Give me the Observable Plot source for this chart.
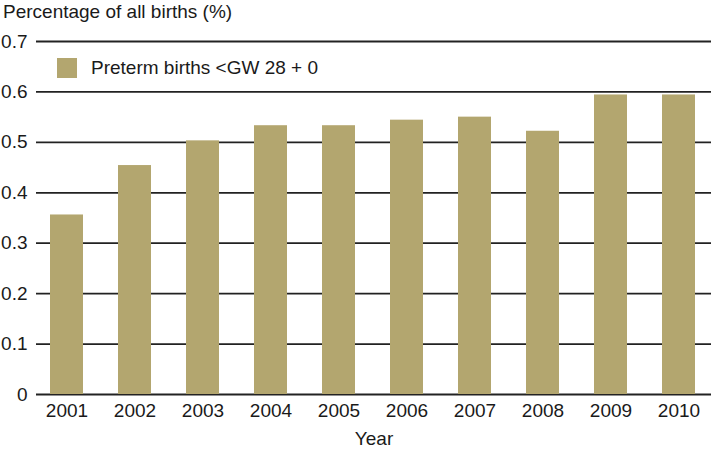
<!DOCTYPE html>
<html>
<head>
<meta charset="utf-8">
<script src="https://cdn.jsdelivr.net/npm/d3@7"></script>
<script src="https://cdn.jsdelivr.net/npm/@observablehq/plot@0.6"></script>
<style>
  html, body { margin: 0; padding: 0; background: #fff; }
  #wrap { position: relative; width: 711px; height: 453px; font-family: "Liberation Sans", Arial, sans-serif; color: #1a1a1a; }
  #title { position: absolute; left: 3px; top: 0px; font-size: 19px; line-height: 24px; white-space: nowrap; }
  #legend { position: absolute; left: 57px; top: 57px; display: flex; align-items: center; font-size: 19px; white-space: nowrap; }
  #legend .sw { width: 20px; height: 20px; margin-right: 14px; }
  svg { display: block; }
</style>
</head>
<body>
<div id="wrap">
  <div id="chart"></div>
  <div id="title"></div>
  <div id="legend"></div>
</div>
<script>
const years = ["2001","2002","2003","2004","2005","2006","2007","2008","2009","2010"];
const values = [0.356, 0.454, 0.503, 0.533, 0.533, 0.544, 0.550, 0.522, 0.594, 0.594];
const yTicks = [0, 0.1, 0.2, 0.3, 0.4, 0.5, 0.6, 0.7];
const seriesName = "Preterm births <GW 28 + 0";
const titleText = "Percentage of all births (%)";
const xLabel = "Year";
const barColor = "#b3a66f";

const data = years.map((y, i) => ({year: y, value: values[i]}));

const chart = Plot.plot({
  width: 711,
  height: 453,
  marginTop: 41,
  marginBottom: 59,
  marginLeft: 36,
  marginRight: 0,
  style: {fontFamily: "'Liberation Sans', Arial, sans-serif", fontSize: "19px", color: "#1a1a1a", background: "#fff"},
  x: {domain: years, paddingInner: 0.515, paddingOuter: 0.214, align: 0.45},
  y: {domain: [0, 0.7]},
  marks: [
    Plot.ruleY(yTicks, {stroke: "#222", strokeWidth: 1.8}),
    Plot.barY(data, {x: "year", y: "value", fill: barColor}),
    Plot.axisY(yTicks, {tickSize: 0, tickPadding: 9, tickFormat: d => d === 0 ? "0" : d.toFixed(1), label: null, fontSize: 19}),
    Plot.axisX({tickSize: 0, tickPadding: 9, label: xLabel, labelAnchor: "center", labelArrow: "none", labelOffset: 50, fontSize: 19})
  ]
});
document.getElementById("chart").appendChild(chart);
document.getElementById("title").textContent = titleText;
const lg = document.getElementById("legend");
const sw = document.createElement("div");
sw.className = "sw";
sw.style.background = barColor;
const lt = document.createElement("span");
lt.textContent = seriesName;
lg.appendChild(sw);
lg.appendChild(lt);
</script>
</body>
</html>
